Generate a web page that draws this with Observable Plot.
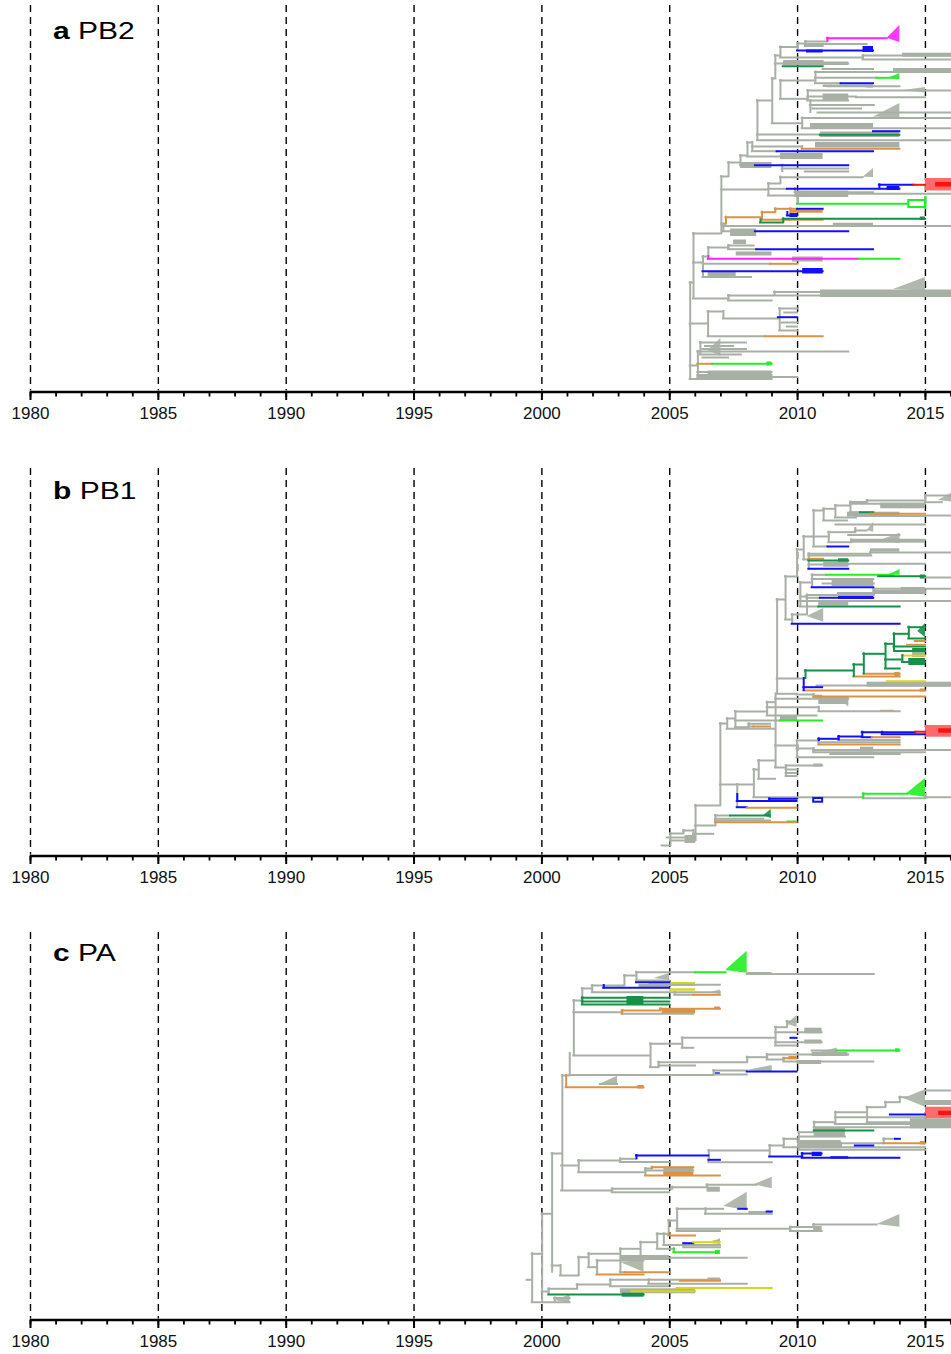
<!DOCTYPE html>
<html><head><meta charset="utf-8">
<script src="https://cdn.jsdelivr.net/npm/d3@7"></script>
<script src="https://cdn.jsdelivr.net/npm/@observablehq/plot@0.6"></script>
<style>html,body{margin:0;padding:0;background:#fff;overflow:hidden;} #chart svg{display:block;}</style>
</head><body><div id="chart"></div>
<script>
const dashYears = [1980,1985,1990,1995,2000,2005,2010,2015];
const labelYears = [1980,1985,1990,1995,2000,2005,2010,2015];
const minorYears = [1980,1981,1982,1983,1984,1985,1986,1987,1988,1989,1990,1991,1992,1993,1994,1995,1996,1997,1998,1999,2000,2001,2002,2003,2004,2005,2006,2007,2008,2009,2010,2011,2012,2013,2014,2015,2016];
const COL = {g:"#a8b0a5", b:"#1010ff", m:"#ff22ff", G:"#22ee22", d:"#169147", o:"#d99343", r:"#ff1111", R:"#ff6a6a", y:"#d6d61e"};

// ---------- panel a: PB2 ----------  [t0, t1, row, colour]
const A_H = [
[2010.31,2011.17,41,'g'],[2011.17,2013.5,37.7,'m'],[2010.31,2012.72,43.5,'g'],[2010.31,2011.0,45.5,'g'],
[2010.0,2010.31,43,'g'],[2010.0,2012.97,50,'b'],[2009.33,2010.0,46.5,'g'],[2012.56,2016.1,55,'g'],
[2012.56,2016.1,59,'g'],[2009.33,2012.56,57,'g'],[2009.13,2012.0,63,'g'],[2009.44,2011.0,65.7,'d'],
[2009.13,2009.33,55,'g'],[2010.7,2016.1,71.5,'g'],[2011.0,2012.97,68.5,'g'],[2010.7,2013.11,77.3,'g'],
[2013.11,2013.95,77.3,'G'],[2010.7,2011.7,82.7,'g'],[2011.7,2012.97,82.7,'b'],[2009.33,2010.7,80,'g'],
[2009.01,2009.13,78,'g'],[2010.4,2016.1,90,'g'],[2010.4,2012.3,96,'g'],[2012.3,2015.0,96.7,'g'],
[2010.4,2012.0,100,'g'],[2009.33,2010.4,98.3,'g'],[2009.01,2010.18,122.7,'g'],[2010.18,2016.1,117.5,'g'],
[2010.18,2016.1,127.7,'g'],[2008.43,2009.01,100,'g'],[2008.43,2010.89,134,'g'],[2010.89,2014.0,134.3,'d'],
[2012.97,2014.0,130.7,'b'],[2008.43,2016.1,139.8,'g'],[2008.23,2010.18,146,'g'],[2010.18,2014.0,148.3,'o'],
[2008.23,2009.2,150.7,'g'],[2009.2,2012.97,150.7,'b'],[2008.04,2008.23,142,'g'],[2008.04,2009.33,156,'g'],
[2007.77,2008.04,155,'g'],[2007.77,2008.35,164.7,'g'],[2008.35,2012.0,164.7,'b'],[2007.3,2007.77,162,'g'],
[2007.02,2007.3,176,'g'],[2009.33,2012.56,176.7,'g'],[2008.86,2009.33,183,'g'],[2007.02,2008.86,189,'g'],
[2008.86,2009.6,188.3,'g'],[2009.6,2014.0,188.3,'b'],[2013.2,2014.55,184.3,'b'],[2014.55,2015.0,184.3,'r'],
[2009.9,2012.97,191.7,'g'],[2010.0,2016.1,193.3,'g'],[2008.86,2010.0,195,'g'],[2010.0,2015.0,203.3,'G'],
[2007.2,2008.61,216.7,'o'],[2008.61,2009.13,211.7,'o'],[2009.13,2009.72,208.3,'o'],[2009.72,2010.0,208.3,'o'],
[2010.0,2011.0,208.3,'b'],[2009.6,2010.0,215,'b'],[2008.61,2011.0,219.3,'o'],[2008.55,2009.44,222,'d'],
[2009.44,2015.0,218.3,'d'],[2007.02,2007.2,223.3,'g'],[2007.1,2016.1,225.5,'g'],[2007.1,2008.35,230.7,'g'],
[2008.35,2012.0,230.7,'b'],[2005.93,2007.02,233,'g'],[2006.51,2007.3,247,'g'],[2007.3,2008.3,245,'g'],
[2007.3,2008.4,248.7,'g'],[2008.4,2012.97,248.7,'b'],[2006.3,2006.51,256,'g'],[2006.51,2012.38,258.3,'m'],
[2012.38,2014.0,258.3,'G'],[2006.3,2008.94,263.3,'g'],[2008.94,2010.0,263.3,'o'],[2006.3,2011.0,270.7,'b'],
[2006.3,2008.2,276.5,'g'],[2005.93,2006.3,262,'g'],[2007.3,2016.1,295,'g'],[2009.1,2016.1,291.5,'g'],
[2007.3,2009.0,300,'g'],[2005.93,2007.3,298,'g'],[2005.8,2005.93,282,'g'],[2007.1,2009.3,318,'g'],
[2009.3,2010.0,308,'g'],[2009.5,2010.0,312,'g'],[2009.4,2010.0,322,'g'],[2009.6,2010.0,326,'g'],
[2009.3,2010.0,330,'g'],[2009.25,2010.0,316.7,'b'],[2006.5,2007.1,311,'g'],[2006.5,2008.74,335.7,'g'],
[2008.74,2011.0,335.7,'o'],[2005.8,2006.5,323,'g'],[2006.1,2012.0,351,'g'],[2006.2,2008.0,342,'g'],
[2006.4,2007.5,345.5,'g'],[2006.3,2008.0,348.5,'g'],[2006.2,2007.8,354,'g'],[2006.3,2007.3,357,'g'],
[2006.1,2006.67,363.3,'o'],[2006.67,2009.0,363.3,'G'],[2006.1,2009.0,371.5,'g'],[2006.1,2009.0,374.5,'g'],
[2006.1,2010.0,376.5,'g'],[2005.8,2006.1,365,'g'],[2005.8,2009.0,378.5,'g'],
[2010.5,2013.0,104.5,'g'],[2010.6,2012.5,108,'g'],[2010.8,2016.1,112,'g'],[2009.5,2011.0,60.5,'g'],
[2011.2,2014.0,85.7,'g'],[2009.4,2012.0,168,'g'],[2010.3,2012.0,171,'g']
];
const A_V = [
[2011.17,37.7,41,'m'],[2010.31,41,45.5,'g'],[2010.0,43,50,'g'],[2009.33,46.5,57,'g'],[2012.56,55,59,'g'],
[2009.13,55,78,'g'],[2010.7,71.5,82.7,'g'],[2009.33,80,98.3,'g'],[2010.4,90,100,'g'],[2009.01,78,122.7,'g'],
[2010.18,117.5,127.7,'g'],[2008.43,100,139.8,'g'],[2010.18,146,148.3,'g'],[2008.23,142,150.7,'g'],
[2008.04,142,156,'g'],[2007.77,155,164.7,'g'],[2007.3,162,176,'g'],[2007.02,176,233,'g'],
[2009.33,176.7,183,'g'],[2008.86,183,195,'g'],[2009.9,188.3,191.7,'g'],[2013.2,184.3,188.3,'b'],
[2010.0,193.3,203.3,'g'],[2015.0,197,208,'G'],[2007.2,216.7,223.3,'o'],[2008.61,211.7,219.3,'o'],
[2009.13,208.3,211.7,'o'],[2009.72,208.3,212,'o'],[2009.6,212,215,'b'],[2008.55,219.3,222,'d'],
[2009.44,218.3,222,'d'],[2007.1,223.3,230.7,'g'],[2007.3,245,248.7,'g'],[2006.51,247,256,'g'],
[2006.51,256,258.3,'m'],[2006.3,256,276.5,'g'],[2005.93,233,298,'g'],[2009.1,291.5,295,'g'],
[2007.3,295,300,'g'],[2005.8,282,378.5,'g'],[2006.5,311,335.7,'g'],[2007.1,311,318,'g'],
[2009.3,308,330,'g'],[2006.1,351,376.5,'g'],[2006.2,342,354,'g'],[2010.5,100,112,'g'],[2009.4,164.7,171,'g']
];
const A_R = [
[2010.35,2011.0,49.5,52.5,'b'],[2012.56,2012.97,46,52,'b'],[2014.1,2016.1,52.7,56.7,'g'],[2009.44,2012.0,61.5,65,'g'],
[2013.75,2016.1,68,72.5,'g'],[2011.0,2012.97,84.5,87,'g'],[2012.72,2012.97,85,87.5,'o'],[2011.0,2012.0,93.5,100,'g'],
[2010.5,2012.97,123,128,'g'],[2010.89,2014.0,131.5,137,'g'],[2010.7,2014.0,142,147.5,'g'],[2009.33,2011.0,153,159,'g'],
[2007.77,2009.0,162,168,'g'],[2013.5,2014.0,186,190,'b'],[2015.0,2016.1,178,190.5,'R'],[2015.4,2016.1,182,186.5,'r'],
[2009.9,2012.0,190.5,197,'g'],[2009.72,2011.0,210,212.7,'o'],[2009.7,2010.0,213,217,'b'],[2014.8,2015.0,216.5,220,'d'],
[2011.4,2012.97,222.7,227,'g'],[2007.38,2008.4,228.5,236,'g'],[2007.5,2008.0,239.5,244,'g'],[2007.6,2009.0,251.5,255.5,'g'],
[2009.8,2011.0,256.5,261.5,'g'],[2010.2,2011.0,268,273.5,'b'],[2006.5,2007.6,272,276,'g'],[2010.9,2016.1,289.5,297,'g'],
[2008.8,2009.0,361.5,365.5,'G'],[2006.5,2009.0,370.5,377,'g']
];
const A_O = [[2014.35,2015.0,200,207,'G']];
const A_T = [
[2013.5,2014.0,25,42,37.7,'m'],[2013.6,2014.0,73,79,77.3,'G'],[2014.15,2015.0,87,92.5,90,'g'],
[2012.97,2014.0,103,118,116.5,'g'],[2012.56,2012.97,168,177,176.7,'g'],[2013.75,2015.0,277,290.5,289,'g'],
[2006.5,2007.0,338,356,350,'g']
];

// ---------- panel b: PB1 ----------
const B_H = [
[2012.72,2015.0,36,'g'],[2015.0,2016.1,31,'g'],[2015.0,2015.66,37.7,'g'],[2012.07,2015.0,39.3,'g'],
[2012.07,2012.72,37.5,'g'],[2011.48,2012.07,41,'g'],[2011.02,2011.48,44.3,'g'],[2012.07,2012.46,47.7,'g'],
[2012.46,2012.98,47.7,'d'],[2012.07,2012.85,49.3,'g'],[2012.85,2015.0,49.3,'o'],[2015.0,2016.1,51,'g'],
[2012.3,2015.0,51.5,'g'],[2011.48,2012.3,53,'g'],[2011.02,2011.95,56,'g'],[2010.63,2011.02,46,'g'],
[2012.26,2012.72,66,'g'],[2011.22,2012.26,67.7,'g'],[2012.1,2015.0,75.3,'g'],[2011.22,2012.1,77.7,'g'],
[2010.63,2011.22,72,'g'],[2010.63,2011.19,82,'g'],[2011.19,2012.0,82,'b'],[2012.85,2016.1,88,'g'],
[2010.44,2012.85,89.3,'g'],[2010.44,2012.9,91,'g'],[2010.44,2011.02,94.3,'o'],[2010.44,2012.0,96,'d'],
[2012.0,2015.0,99.3,'g'],[2010.44,2012.0,100,'g'],[2010.44,2012.0,104.3,'b'],[2010.24,2010.63,72,'g'],
[2010.24,2010.44,95,'g'],[2009.98,2010.24,85,'g'],
[2010.57,2011.15,110.3,'g'],[2011.15,2013.77,110.3,'G'],[2013.17,2015.0,111.7,'d'],[2015.0,2016.1,113,'g'],
[2010.57,2012.98,114.5,'g'],[2010.57,2012.98,122.7,'b'],[2012.98,2016.1,124.3,'g'],[2012.98,2015.0,126.5,'g'],
[2010.37,2012.98,130.5,'g'],[2010.37,2010.89,133.3,'g'],[2010.89,2012.98,133.3,'b'],[2010.11,2016.1,136.5,'g'],
[2010.11,2010.83,142,'g'],[2010.83,2014.01,142,'d'],[2010.11,2010.57,118,'g'],[2010.11,2010.37,132,'g'],
[2009.79,2010.37,150,'g'],[2009.79,2014.01,159.3,'b'],[2009.53,2009.98,112,'g'],[2009.53,2009.79,155,'g'],
[2009.2,2009.53,135,'g'],
[2010.31,2012.2,206,'d'],[2012.2,2012.59,200,'d'],[2012.59,2013.44,189.3,'d'],[2013.44,2013.77,179.3,'d'],
[2013.77,2014.35,169.3,'d'],[2014.35,2015.0,162.7,'d'],[2014.35,2015.0,174,'d'],[2014.6,2015.0,176.5,'o'],
[2013.77,2015.0,182,'d'],[2014.3,2015.0,180.3,'o'],[2013.8,2015.0,186.5,'d'],[2013.44,2014.1,195,'d'],
[2014.1,2015.0,191,'y'],[2014.1,2015.0,197.5,'d'],[2013.44,2014.01,204,'d'],[2012.2,2014.01,212,'o'],
[2012.59,2014.01,209.3,'o'],[2009.2,2010.24,214,'g'],[2010.24,2010.98,222.7,'b'],[2010.76,2016.1,221,'g'],
[2013.51,2015.0,216.7,'y'],[2010.24,2015.0,226,'o'],[2010.63,2015.0,232,'o'],[2009.98,2010.63,230,'g'],
[2009.2,2009.98,229.3,'g'],
[2009.14,2012.0,234.3,'g'],[2008.81,2009.14,237.7,'g'],[2008.81,2010.83,242.7,'g'],[2010.83,2014.01,246.7,'g'],
[2008.81,2010.76,251,'g'],[2009.33,2010.98,256,'G'],[2007.57,2008.81,247,'g'],[2007.57,2009.33,256,'g'],
[2007.57,2008.09,262.7,'g'],[2008.09,2008.94,259.3,'g'],[2008.09,2008.29,262,'g'],[2008.29,2008.94,262,'o'],
[2007.25,2007.57,254,'g'],[2006.98,2007.25,259,'g'],[2007.25,2009.14,264.3,'g'],
[2009.98,2010.83,276,'g'],[2010.83,2011.61,274.3,'b'],[2011.61,2012.53,272,'b'],[2012.53,2014.62,267.7,'b'],
[2014.62,2015.0,267.2,'r'],[2013.31,2015.0,269.7,'b'],[2012.53,2012.92,272.7,'b'],[2012.92,2014.01,272.7,'o'],
[2011.61,2014.01,275.5,'g'],[2010.83,2014.01,277.7,'g'],[2010.83,2014.01,280,'o'],[2009.98,2010.63,284,'g'],
[2010.63,2015.0,287.7,'g'],[2010.63,2016.1,285.5,'g'],[2011.3,2014.01,289.5,'g'],[2009.98,2012.98,292.7,'g'],
[2009.14,2009.98,281,'g'],
[2009.55,2010.98,301,'g'],[2009.55,2010.0,305,'g'],[2009.55,2009.98,308.5,'g'],[2009.55,2009.98,311.5,'g'],
[2009.14,2009.55,303,'g'],[2008.48,2009.14,296,'g'],[2008.48,2009.14,314.3,'g'],[2008.29,2008.48,305,'g'],
[2008.29,2012.57,332.7,'g'],[2012.57,2014.3,329.3,'G'],[2012.57,2015.0,333.7,'g'],[2015.0,2016.1,332.7,'g'],
[2007.64,2008.29,320,'g'],[2006.98,2007.64,320,'g'],[2007.64,2009.98,336.5,'b'],[2008.9,2009.98,334.3,'b'],
[2007.64,2008.03,342.7,'b'],[2008.03,2009.98,343.3,'o'],
[2006.79,2007.38,351,'g'],[2007.38,2008.94,351,'d'],[2006.79,2008.67,354.3,'g'],[2006.79,2009.98,357.7,'o'],
[2006.79,2008.94,356,'g'],[2006.01,2006.98,341,'g'],[2006.01,2006.79,361,'g'],[2005.93,2006.72,369.3,'g'],
[2005.54,2005.93,366,'g'],[2005.03,2006.01,376,'g'],[2005.03,2005.54,369,'g'],[2004.7,2005.03,381,'g'],
[2004.9,2006.0,373,'g'],
[2011.5,2015.0,60,'g'],[2012.0,2014.0,70.5,'g'],[2011.6,2015.0,128.5,'g'],[2011.0,2013.0,119,'g']
];
const B_V = [
[2015.0,31,37.7,'g'],[2012.72,36,37.5,'g'],[2012.07,37.5,49.3,'g'],[2011.48,41,53,'g'],[2011.02,44.3,56,'g'],
[2010.63,46,82,'g'],[2012.26,64,68,'g'],[2011.22,67.7,77.7,'g'],[2012.1,75.3,77.7,'g'],[2012.85,88,89.3,'g'],
[2010.44,89.3,104.3,'g'],[2010.24,72,95,'g'],[2009.98,85,112,'g'],[2010.57,110.3,122.7,'g'],
[2012.98,124.3,130.5,'g'],[2010.37,130.5,150,'g'],[2010.11,118,142,'g'],[2009.79,150,159.3,'g'],
[2009.53,112,155,'g'],[2009.2,135,229.3,'g'],[2010.31,206,214,'d'],[2010.24,214,226,'b'],
[2012.2,200,212,'d'],[2012.59,189.3,209.3,'d'],[2013.44,179.3,204,'d'],[2013.77,169.3,186.5,'d'],
[2014.35,162.7,174,'d'],[2014.1,191,197.5,'d'],[2010.63,230,232,'g'],[2009.14,229.3,303,'g'],
[2008.81,237.7,251,'g'],[2010.83,242.7,246.7,'g'],[2007.57,247,262.7,'g'],[2008.09,259.3,262.7,'g'],
[2007.25,254,264.3,'g'],[2006.98,259,341,'g'],[2009.98,276,292.7,'g'],[2010.83,274.3,276,'b'],
[2010.83,276,280,'g'],[2011.61,272,275.5,'b'],[2012.53,267.7,272.7,'b'],[2013.31,267.7,269.7,'b'],
[2010.63,284,287.7,'g'],[2009.55,301,311.5,'g'],[2008.48,296,314.3,'g'],[2008.29,305,332.7,'g'],
[2012.57,329.3,333.7,'G'],[2015.0,330,333.7,'g'],[2007.64,320,342.7,'g'],[2007.64,330,336.5,'b'],
[2008.9,334.3,336.5,'b'],[2006.79,351,361,'g'],[2006.01,341,376,'g'],[2005.93,366,369.3,'g'],
[2005.54,366,369,'g'],[2005.03,369,381,'g']
];
const B_R = [
[2013.25,2015.0,38.7,44.3,'g'],[2011.95,2014.0,47.7,52.7,'g'],[2012.1,2015.0,75.3,78.7,'g'],[2012.85,2014.0,84.3,87.7,'g'],
[2011.6,2012.0,94.3,97.7,'d'],[2011.02,2012.0,97.7,102.7,'g'],[2014.8,2015.0,110.5,114.5,'d'],[2011.35,2012.98,115,122,'g'],
[2014.05,2015.0,123,127.7,'g'],[2011.6,2012.98,132,135,'b'],[2010.83,2012.0,137.7,141.5,'g'],[2014.5,2015.0,184,188.5,'d'],
[2014.5,2015.0,188.5,193,'g'],[2014.35,2015.0,194,201,'d'],[2013.8,2014.01,208,213,'o'],[2012.72,2016.1,217.7,222.7,'g'],
[2014.8,2015.0,224.5,227.5,'o'],[2010.63,2010.98,230.7,234,'g'],[2010.83,2012.0,232.7,240,'g'],[2013.25,2013.77,245.8,248,'o'],
[2009.33,2010.0,251.7,257,'g'],[2015.0,2016.1,261,272.7,'R'],[2015.52,2016.1,264.3,268.7,'r'],[2012.46,2012.98,282.7,287.7,'g'],
[2010.63,2010.98,299.5,302.5,'g'],[2009.59,2009.98,356.5,359,'G'],[2005.6,2006.01,371,379,'g']
];
const B_O = [[2010.63,2010.98,334,337.7,'b']];
const B_T = [
[2015.5,2016.1,27.7,37.7,36,'g'],[2012.72,2012.98,57.7,67.7,66,'g'],[2013.13,2014.01,68.7,79.3,77,'g'],
[2013.6,2014.01,105,111,110,'G'],[2010.37,2011.02,144,157.7,152,'g'],[2014.7,2015.0,159,173,167,'d'],
[2011.8,2012.0,232.7,242.7,238,'g'],[2014.23,2015.0,314,332.7,330,'G'],[2008.67,2008.97,345,354,351,'d']
];

// ---------- panel c: PA ----------
const C_H = [
[2003.7,2006.01,43.7,'g'],[2006.01,2007.2,43.7,'G'],[2008.03,2013.0,45.5,'g'],[2003.7,2005.0,52,'g'],
[2003.7,2005.0,53.7,'b'],[2003.23,2003.7,47,'g'],[2005.0,2006.98,56.3,'g'],[2001.97,2003.23,57,'g'],
[2002.42,2005.0,59.3,'b'],[2001.97,2006.98,63.7,'g'],[2005.2,2005.94,66.3,'g'],[2005.94,2006.98,66.3,'o'],
[2001.58,2001.97,60,'g'],[2001.58,2005.0,69.3,'d'],[2001.58,2005.0,73,'d'],[2001.58,2005.0,76,'d'],
[2001.25,2001.58,72,'g'],[2004.64,2006.98,80.3,'o'],[2003.14,2004.64,82,'o'],[2003.14,2005.94,85.3,'g'],
[2001.25,2003.14,83.7,'g'],
[2001.25,2004.25,127,'g'],[2004.25,2005.49,115.3,'g'],[2005.49,2009.14,109.3,'g'],[2005.49,2005.94,119.3,'g'],
[2009.14,2009.59,98.7,'g'],[2009.59,2009.98,93,'g'],[2009.14,2010.96,103.7,'g'],[2009.74,2009.98,109.3,'b'],
[2009.14,2010.96,113.7,'g'],[2009.14,2009.98,117,'g'],[2004.25,2004.57,138.7,'g'],[2004.57,2008.03,133.7,'g'],
[2004.57,2006.01,137,'g'],[2008.03,2008.81,128.7,'g'],[2008.81,2012.0,126,'g'],[2010.57,2011.55,122,'g'],
[2011.55,2014.0,122,'G'],[2008.81,2009.46,131,'g'],[2009.46,2009.98,129.7,'o'],[2009.46,2012.98,133,'g'],
[2001.09,2006.72,146.5,'g'],[2006.72,2008.03,142,'g'],[2008.03,2009.98,143,'b'],[2006.72,2008.03,146,'g'],
[2000.8,2001.09,147,'g'],[2000.95,2003.99,158.7,'o'],[2002.29,2002.96,155.5,'g'],
[2010.65,2011.48,193.7,'g'],[2011.48,2012.72,183.7,'g'],[2012.72,2013.44,178.7,'g'],[2013.44,2014.0,173.7,'g'],
[2014.0,2014.3,168.7,'g'],[2015.0,2016.1,162,'g'],[2013.63,2015.0,186,'b'],[2011.48,2015.0,188.7,'g'],
[2012.72,2016.1,193.7,'g'],[2011.48,2016.1,195.5,'g'],[2010.65,2015.0,198.7,'g'],[2010.65,2012.98,202,'d'],
[2010.05,2010.65,203.7,'g'],[2010.05,2011.87,208,'g'],[2009.46,2010.05,210.3,'g'],[2009.46,2015.0,218.7,'g'],
[2011.7,2013.37,214.7,'g'],[2013.37,2015.0,214.7,'o'],[2012.26,2012.98,217,'b'],[2013.37,2013.83,210.3,'g'],
[2013.83,2014.02,210.3,'b'],[2010.05,2015.0,221.3,'g'],[2008.91,2009.46,217,'g'],[2008.91,2010.18,228,'b'],
[2010.18,2010.96,225,'b'],[2010.18,2014.0,229.3,'b'],[2006.53,2008.91,222,'g'],[2006.53,2006.98,231.3,'b'],
[2006.53,2009.01,233.7,'g'],[2003.7,2006.53,227,'b'],[2003.07,2003.7,230.3,'g'],[2003.07,2004.99,233.5,'g'],
[2001.44,2003.07,232,'g'],[2004.31,2005.94,238.7,'o'],[2004.05,2004.31,240,'g'],[2004.05,2005.94,242,'g'],
[2004.05,2006.98,247,'o'],[2001.44,2004.05,243.7,'g'],[2000.77,2001.44,237,'g'],[2000.77,2002.75,262,'g'],
[2002.75,2005.1,260.3,'g'],[2005.1,2006.46,258.7,'g'],[2006.46,2008.42,256.3,'g'],[2002.75,2004.99,263.7,'g'],
[2000.4,2000.77,225,'g'],
[2006.4,2007.11,280.3,'g'],[2007.7,2008.03,280.3,'b'],[2008.81,2009.01,283,'b'],[2006.4,2009.01,285.3,'g'],
[2005.29,2006.4,280.3,'g'],[2005.29,2009.72,300.3,'g'],[2005.29,2006.98,302.5,'g'],[2009.72,2010.63,298.5,'g'],
[2010.63,2013.11,296,'g'],[2009.72,2010.96,302.5,'g'],[2004.96,2005.29,292,'g'],[2004.51,2004.96,305.3,'g'],
[2004.96,2006.01,307,'o'],[2004.77,2005.55,316.5,'g'],[2005.55,2005.94,314.7,'b'],[2005.94,2006.98,313.7,'y'],
[2005.55,2006.98,316.5,'g'],[2005.55,2006.98,318.7,'g'],[2005.16,2006.85,323.7,'G'],[2004.51,2005.16,320.3,'g'],
[2003.86,2004.51,313.7,'g'],[2003.86,2008.03,329.3,'g'],[2003.07,2003.86,320.3,'g'],[2001.83,2003.07,325.3,'g'],
[2002.16,2003.99,332,'g'],[2001.83,2002.16,338.7,'g'],[2001.44,2001.83,328.7,'g'],[2003.07,2003.27,343.7,'g'],
[2003.27,2004.99,343.7,'o'],[2002.16,2003.99,346,'o'],[2000.73,2001.44,347,'g'],[2000.4,2000.73,337,'g'],
[2004.18,2006.98,351.3,'g'],[2005.42,2006.98,352.3,'o'],[2004.18,2008.03,355.3,'g'],[2002.68,2004.18,351.3,'g'],
[2002.68,2004.96,357.7,'g'],[2001.38,2002.68,356,'g'],[2000.27,2001.38,360.3,'g'],[2005.29,2009.01,359.5,'y'],
[2003.53,2006.01,362.7,'y'],[2000.27,2004.0,366,'d'],[2000.01,2000.27,363,'g'],[2000.5,2001.1,369.5,'g'],
[1999.62,2001.1,373.7,'g'],[1999.42,1999.62,351.3,'g'],[1999.62,2000.01,325.3,'g'],[2000.01,2000.4,285.3,'g']
];
const C_V = [
[2003.7,43.7,53.7,'g'],[2003.23,47,57,'g'],[2002.42,57,59.3,'b'],[2001.97,57,63.7,'g'],[2001.58,60,72,'g'],
[2001.58,69.3,76,'d'],[2005.2,63.7,66.3,'g'],[2003.14,82,85.3,'o'],[2004.64,80.3,82,'o'],[2001.25,72,127,'g'],
[2004.25,115.3,138.7,'g'],[2005.49,109.3,119.3,'g'],[2009.14,98.7,117,'g'],[2009.59,93,98.7,'g'],
[2004.57,133.7,138.7,'g'],[2008.03,128.7,133.7,'g'],[2008.81,126,131,'g'],[2009.46,129.7,133,'g'],
[2001.09,125,147,'g'],[2006.72,142,146.5,'g'],[2000.95,147,158.7,'o'],[2000.8,147,262,'g'],
[2010.65,193.7,203.7,'g'],[2011.48,183.7,195.5,'g'],[2012.72,178.7,193.7,'g'],[2013.44,173.7,178.7,'g'],
[2014.0,168.7,173.7,'g'],[2010.05,203.7,221.3,'g'],[2009.46,210.3,218.7,'g'],[2013.37,210.3,214.7,'g'],
[2011.7,214.7,218.7,'g'],[2008.91,217,228,'g'],[2010.18,225,229.3,'b'],[2006.53,222,233.7,'g'],
[2003.7,227,230.3,'b'],[2003.07,230.3,233.5,'g'],[2001.44,232,243.7,'g'],[2004.31,238.7,240,'o'],
[2004.05,240,247,'g'],[2002.75,260.3,263.7,'g'],[2005.1,258.7,260.3,'g'],[2006.46,256.3,258.7,'g'],
[2000.4,225,343.7,'g'],[2006.4,280.3,285.3,'g'],[2005.29,280.3,302.5,'g'],[2009.72,298.5,302.5,'g'],
[2010.63,296,298.5,'g'],[2004.96,292,307,'g'],[2004.77,305.3,316.5,'g'],[2005.55,314.7,318.7,'g'],
[2005.16,320.3,323.7,'G'],[2004.51,305.3,320.3,'g'],[2003.86,313.7,329.3,'g'],[2003.07,320.3,343.7,'g'],
[2002.16,332,346,'g'],[2001.83,325.3,338.7,'g'],[2001.44,328.7,347,'g'],[2000.73,337,347,'g'],
[2004.18,351.3,355.3,'g'],[2002.68,351.3,357.7,'g'],[2001.38,356,360.3,'g'],[2000.27,360.3,366,'g'],
[2000.01,285.3,373.7,'g'],[2000.5,369.5,373.7,'g'],[1999.62,325.3,373.7,'g']
];
const C_R = [
[2008.03,2009.0,44,46.8,'g'],[2004.18,2006.01,54,58,'y'],[2003.8,2004.99,56,60,'g'],[2004.99,2006.01,60.3,62.7,'y'],
[2003.33,2003.99,68,76,'d'],[2006.75,2006.98,78.5,81.3,'o'],[2004.7,2006.01,80.3,85.3,'o'],[2010.28,2010.96,99.7,105.3,'g'],
[2010.28,2010.96,111.5,115.5,'g'],[2013.83,2014.0,120.3,123.7,'G'],[2010.57,2011.97,123.7,128,'g'],[2009.66,2009.98,128,131.3,'o'],
[2009.98,2010.94,132,136,'g'],[2006.79,2006.98,144.3,146,'b'],[2003.75,2004.0,157,160.5,'o'],[2015.0,2016.1,172,177,'g'],
[2015.0,2016.1,178.7,190.3,'R'],[2015.52,2016.1,182.7,187,'r'],[2014.41,2016.1,190.3,200.3,'g'],[2010.65,2011.87,200,208.7,'g'],
[2010.0,2011.7,212,220.3,'g'],[2014.8,2015.0,213,216.5,'o'],[2010.57,2010.96,223.7,228,'b'],[2011.3,2012.0,228.2,230.5,'b'],
[2004.77,2005.94,238.7,245,'g'],[2004.77,2005.94,243.7,247.7,'o'],[2006.46,2006.98,258.7,263.7,'g'],[2008.1,2009.01,283,286.5,'g'],
[2010.63,2010.96,298,303.5,'g'],[2006.7,2006.98,312,315.5,'y'],[2006.79,2006.98,322,326,'G'],[2003.07,2004.99,327,332,'g'],
[2006.5,2006.98,349.5,353,'g'],[2003.07,2006.01,360.3,365.3,'g'],[2003.14,2004.0,364.7,368.7,'d']
];
const C_O = [];
const C_T = [
[2007.18,2008.03,22.7,44.7,42,'G'],[2004.38,2004.99,45,52,50,'g'],[2006.59,2006.98,61.5,66,64,'g'],
[2009.59,2009.98,87,98.7,96,'g'],[2010.6,2011.55,119.5,128,126,'g'],[2008.03,2009.01,137,143.7,142,'g'],
[2002.29,2002.96,147.7,157,155.5,'g'],[2014.15,2015.0,161.3,178.7,170,'g'],[2008.29,2009.01,248.7,260.3,256.3,'g'],
[2007.11,2008.03,263.7,282,278,'g'],[2013.11,2014.0,286,298.7,296,'g'],[2006.7,2006.98,310,316,314,'g'],
[2003.07,2003.99,332,343.7,334,'g'],[2000.5,2001.1,366.5,375,372,'g']
];

const panels = [
  {h:A_H, v:A_V, r:A_R, o:A_O, t:A_T, top:5, l1:"a", l2:"PB2", lb:39},
  {h:B_H, v:B_V, r:B_R, o:B_O, t:B_T, top:4, l1:"b", l2:"PB1", lb:35},
  {h:C_H, v:C_V, r:C_R, o:C_O, t:C_T, top:4, l1:"c", l2:"PA", lb:33}
];
const FONT = "Liberation Sans, Arial, Helvetica, sans-serif";

function makePanel(P) {
  const isG = d => d[3] === 'g';
  const notG = d => d[3] !== 'g';
  const triPts = P.t.flatMap((d, i) => [
    {id: i, t: d[0], a: d[4], b: d[4], c: COL[d[5]]},
    {id: i, t: d[1], a: d[2], b: d[3], c: COL[d[5]]}
  ]);
  const lineOpts = {strokeWidth: 2, strokeLinecap: "square"};
  const svg = Plot.plot({
    width: 951, height: 464, margin: 0,
    style: {background: "white", overflow: "hidden"},
    x: {domain: [1980, 2016], range: [30, 950.5], axis: null},
    y: {domain: [0, 464], range: [0, 464], axis: null},
    color: {type: "identity"},
    marks: [
      Plot.ruleX(dashYears, {x: d => d, y1: P.top, y2: 390.5, stroke: "#000", strokeWidth: 1.4, strokeDasharray: "7,5"}),
      Plot.rect(P.r, {x1: d => d[0], x2: d => d[1], y1: d => d[2], y2: d => d[3], fill: d => COL[d[4]]}),
      Plot.areaY(triPts, {x: "t", y1: "a", y2: "b", z: "id", fill: "c", fillOpacity: 0.9, curve: "linear"}),
      Plot.ruleY(P.h.filter(isG), {y: d => d[2], x1: d => d[0], x2: d => d[1], stroke: d => COL[d[3]], ...lineOpts}),
      Plot.ruleX(P.v.filter(isG), {x: d => d[0], y1: d => d[1], y2: d => d[2], stroke: d => COL[d[3]], ...lineOpts}),
      Plot.ruleY(P.h.filter(notG), {y: d => d[2], x1: d => d[0], x2: d => d[1], stroke: d => COL[d[3]], ...lineOpts}),
      Plot.ruleX(P.v.filter(notG), {x: d => d[0], y1: d => d[1], y2: d => d[2], stroke: d => COL[d[3]], ...lineOpts}),
      Plot.rect(P.o, {x1: d => d[0], x2: d => d[1], y1: d => d[2], y2: d => d[3], fill: "white", stroke: d => COL[d[4]], strokeWidth: 2}),
      Plot.ruleY([391.5], {x1: 1980, x2: 2016.3, stroke: "#000", strokeWidth: 2.3}),
      Plot.ruleX(minorYears, {x: d => d, y1: 391.5, y2: 396.5, stroke: "#000", strokeWidth: 1.8}),
      Plot.ruleX(labelYears, {x: d => d, y1: 391.5, y2: 400, stroke: "#000", strokeWidth: 2}),
      Plot.text(labelYears, {x: d => d, y: 413, text: d => String(d), fontSize: 17, fontFamily: FONT, fill: "#111"})
    ]
  });
  const g = d3.select(svg).append("g").attr("transform", `translate(53,${P.lb}) scale(1.25,1)`);
  const t = g.append("text").attr("x", 0).attr("y", 0).attr("text-anchor", "start")
    .attr("font-family", FONT).attr("font-size", 24).attr("fill", "#000");
  t.append("tspan").attr("font-weight", "bold").text(P.l1);
  t.append("tspan").text("\u00a0" + P.l2);
  return svg;
}
const host = document.getElementById("chart");
panels.forEach(P => host.appendChild(makePanel(P)));
</script>
</body></html>
